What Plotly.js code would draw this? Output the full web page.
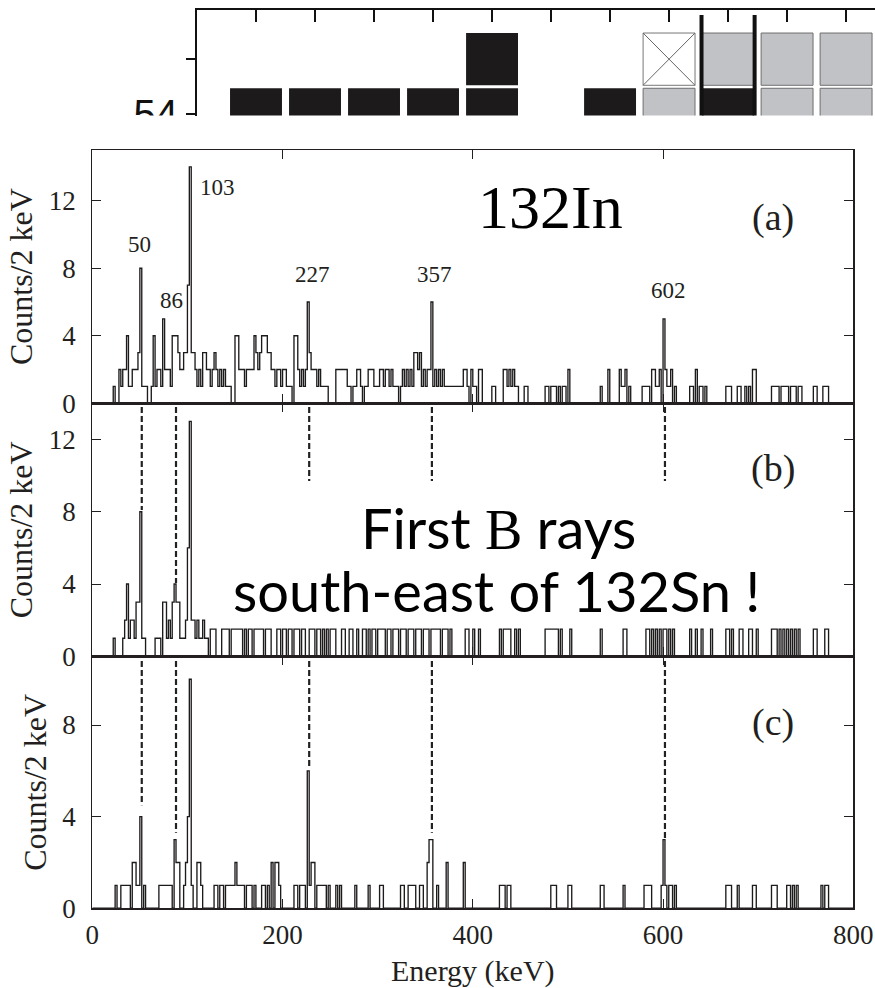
<!DOCTYPE html>
<html><head><meta charset="utf-8">
<script src="https://cdn.plot.ly/plotly-3.0.1.min.js"></script>
<style>html,body{margin:0;padding:0;background:#fff}#chart{width:875px;height:988px}</style>
</head><body><div id="chart"></div>
<script>
// ---------------- DATA ----------------
// [lower bin edge (keV), counts] for the non-empty 2 keV bins of each panel
const spectrumA = [[22,1],[28,2],[30,1],[32,2],[34,2],[36,4],[38,1],[40,1],[42,2],[44,2],[46,2],[48,3],[50,8],[52,1],[54,1],[56,1],[62,1],[64,4],[66,1],[68,2],[70,2],[72,1],[74,5],[76,2],[78,2],[80,2],[82,1],[84,4],[86,4],[88,4],[90,3],[92,2],[94,2],[96,3],[98,3],[100,7],[102,14],[104,3],[106,3],[108,2],[110,1],[112,2],[114,1],[116,3],[118,3],[120,2],[122,2],[124,1],[126,2],[128,3],[130,2],[132,1],[134,2],[136,1],[138,2],[140,1],[142,1],[144,1],[150,4],[152,4],[154,2],[156,2],[158,2],[160,1],[162,2],[164,2],[166,2],[168,2],[170,4],[172,3],[174,2],[176,3],[178,4],[180,4],[182,4],[184,3],[186,3],[188,2],[190,2],[192,1],[194,2],[196,2],[198,1],[200,2],[202,2],[204,1],[206,1],[208,1],[212,4],[214,4],[216,2],[218,1],[220,2],[222,1],[224,2],[226,6],[228,3],[230,2],[232,2],[234,2],[236,1],[238,2],[240,1],[242,1],[244,1],[246,1],[256,2],[258,2],[260,2],[262,2],[264,2],[266,2],[268,1],[270,1],[274,1],[276,1],[278,2],[280,2],[282,1],[286,1],[288,1],[290,2],[292,2],[294,2],[296,1],[298,1],[300,1],
[302,2],[304,2],[306,1],[308,2],[310,2],[312,1],[314,2],[316,1],[318,1],[320,1],[324,1],[326,2],[328,1],[330,2],[332,1],[334,2],[336,1],[338,3],[340,3],[342,2],[344,3],[346,1],[348,2],[350,1],[352,2],[354,2],[356,6],[358,1],[360,2],[362,1],[364,2],[366,1],[368,2],[370,1],[372,1],[374,1],[376,1],[378,1],[380,1],[382,1],[384,1],[386,1],[388,1],[390,2],[392,2],[394,1],[398,2],[400,1],[402,1],[406,2],[408,2],[420,1],[422,1],[432,2],[434,2],[436,1],[438,2],[440,1],[442,2],[444,1],[446,1],[454,1],[456,1],[476,1],[478,1],[482,1],[484,1],[486,1],[490,1],[494,1],[496,1],[500,2],[534,1],[542,2],[554,2],[556,1],[558,1],[560,2],[564,1],[578,1],[580,1],[582,1],[584,1],[588,2],[590,2],[592,1],[594,1],[596,2],[600,5],[602,2],[604,1],[606,1],[608,2],[612,1],[628,1],[630,1],[634,2],[638,1],[640,1],[644,1],[666,1],[668,1],[670,1],[678,1],[680,1],[686,1],[690,1],[694,2],[696,2],[714,1],[716,1],[718,1],[720,1],[724,1],[726,1],[728,1],[730,1],[734,1],[736,1],[738,1],[742,1],[744,1],[758,1],[760,1],[768,1],[770,1],[772,1]];

const spectrumB = [[22,1],[32,1],[34,2],[36,4],[38,1],[40,2],[42,2],[44,1],[46,3],[48,3],[50,8],[52,1],[54,1],[66,1],[68,1],[70,1],[74,3],[76,3],[78,1],[80,2],[82,1],[84,3],[86,4],[88,3],[90,3],[92,1],[94,1],[96,1],[98,2],[100,6],[102,13],[104,2],[106,2],[108,1],[110,2],[112,1],[114,1],[116,2],[118,1],[120,1],
[124,1.5],[126,1.5],[128,1.5],[136,1.5],[138,1.5],[140,1.5],[142,1.5],[146,1.5],[148,1.5],[150,1.5],[152,1.5],[154,1.5],[156,1.5],[160,1.5],[164,1.5],[166,1.5],[170,1.5],[172,1.5],[174,1.5],[176,1.5],[178,1.5],[182,1.5],[184,1.5],[186,1.5],[194,1.5],[196,1.5],[200,1.5],[202,1.5],[206,1.5],[208,1.5],[212,1.5],[214,1.5],[216,1.5],[220,1.5],[222,1.5],[228,1.5],[230,1.5],[232,1.5],[236,1.5],[238,1.5],[242,1.5],[246,1.5],[250,1.5],[252,1.5],[254,1.5],[262,1.5],[264,1.5],[270,1.5],[272,1.5],[278,1.5],[284,1.5],[286,1.5],[290,1.5],[294,1.5],[296,1.5],[300,1.5],
[302,1.5],[304,1.5],[306,1.5],[310,1.5],[312,1.5],[316,1.5],[318,1.5],[320,1.5],[324,1.5],[326,1.5],[328,1.5],[332,1.5],[334,1.5],[336,1.5],[340,1.5],[342,1.5],[344,1.5],[348,1.5],[350,1.5],[352,1.5],[356,1.5],[358,1.5],[360,1.5],[362,1.5],[364,1.5],[368,1.5],[370,1.5],[372,1.5],[376,1.5],[392,1.5],[394,1.5],[400,1.5],[406,1.5],[428,1.5],[432,1.5],[434,1.5],[436,1.5],[438,1.5],[444,1.5],[448,1.5],[476,1.5],[478,1.5],[480,1.5],[482,1.5],[484,1.5],[486,1.5],[488,1.5],[492,1.5],[502,1.5],[534,1.5],[558,1.5],[560,1.5],[582,1.5],[584,1.5],[588,1.5],[592,1.5],[596,1.5],[600,1.5],[602,1.5],[606,1.5],[610,1.5],[628,1.5],[634,1.5],[640,1.5],[650,1.5],[666,1.5],[668,1.5],[672,1.5],[680,1.5],[682,1.5],[690,1.5],[692,1.5],[698,1.5],[714,1.5],[716,1.5],[718,1.5],[722,1.5],[726,1.5],[730,1.5],[734,1.5],[738,1.5],[742,1.5],[758,1.5],[760,1.5],[770,1.5],[772,1.5]];

const spectrumC = [[24,1],[30,1],[32,1],[34,1],[36,1],[38,1],[42,2],[44,2],[46,1],[48,1],[50,4],[54,1],[70,1],[72,1],[74,1],[76,1],[78,1],[80,1],[82,1],[86,3],[88,2],[90,2],[96,1],[98,2],[100,4],[102,10],[104,1],[110,2],[112,2],[114,1],[128,1],[130,1],[134,1],[136,1],[140,1],[142,1],[144,1],[146,1],[148,1],[150,2],[152,1],[154,1],[156,1],[158,1],[162,1],[164,1],[166,1],[170,1],[178,1],[180,1],[184,1],[188,2],[192,2],[194,2],[196,1],[212,1],[214,1],[218,1],[220,1],[222,1],[226,6],[228,1],[230,2],[232,2],[236,1],[238,1],[240,1],[242,1],[244,1],[248,1],[256,1],[260,1],[276,1],[290,1],[302,1],[304,1],[324,1],[326,1],[332,1],[334,1],[336,1],[338,1],[344,1],[346,1],[352,2],[354,3],[356,3],[362,1],[372,2],[390,2],[428,1],[430,1],[432,1],[436,1],[438,1],[482,1],[484,1],[486,1],[500,1],[502,1],[534,1],[536,1],[558,1],[580,1],[582,1],[584,1],[586,1],[598,1],[600,3],[602,1],[606,1],[608,1],[612,1],[666,1],[668,1],[670,1],[678,1],[694,1],[696,1],[714,1],[716,1],[718,1],[730,1],[732,1],[736,1],[740,1],[766,1],[770,1],[772,1]];

const xTickVals = [0, 200, 400, 600, 800];
const yTickValsAB = [0, 4, 8, 12];
const yTickValsC = [0, 4, 8];

const peakLabels = ['50', '86', '103', '227', '357', '602'];
const peakLabelE = [50, 83, 132, 232, 360, 605.5];
const peakLabelC = [9.4, 6.1, 12.8, 7.6, 7.6, 6.7];

const dashE = [52, 88, 228, 357, 602];
const dashTopB = [13.8, 13.8, 13.8, 13.8, 13.8];
const dashBotB = [8.1, 4.05, 9.7, 9.7, 9.7];
const dashTopC = [10.8, 10.8, 10.8, 10.8, 10.8];
const dashBotC = [4.5, 3.3, 6.2, 3.3, 3.05];

// nuclide-chart strip: neutron column, proton row, kind (b=black, g=grey, x=crossed)
const cellN = [74, 75, 76, 77, 78, 80, 81, 82, 83, 84, 78, 81, 82, 83, 84];
const cellZ = [54, 54, 54, 54, 54, 54, 54, 54, 54, 54, 55, 55, 55, 55, 55];
const cellKind = ['b','b','b','b','b','b','g','b','g','g','b','x','g','g','g'];
const stripTicksN = [74, 75, 76, 77, 78, 79, 80, 81, 82, 83, 84];
const magicLinesN = [81.55, 82.45];

// ---------------- BUILD ----------------
const W = 875, H = 988;
const fx = p => p / W, fy = p => 1 - p / H;
const ink = '#231f20';
const serif = 'Liberation Serif';

function stepXY(pairs) {
  const n = 400, arr = new Array(n).fill(0);
  pairs.forEach(([e, c]) => { arr[Math.round(e / 2)] = c; });
  const x = [], y = [];
  for (let i = 0; i < n; i++) { x.push(i * 2); y.push(arr[i]); }
  x.push(800); y.push(arr[n - 1]);
  return { x, y };
}
function dashXY(es, tops, bots) {
  const x = [], y = [];
  es.forEach((e, i) => { x.push(e, e, null); y.push(tops[i], bots[i], null); });
  return { x, y };
}

const traces = [];
[[spectrumA, 'x', 'y'], [spectrumB, 'x2', 'y2'], [spectrumC, 'x3', 'y3']].forEach(([p, xa, ya]) => {
  const s = stepXY(p);
  traces.push({ type: 'scatter', mode: 'lines', x: s.x, y: s.y, xaxis: xa, yaxis: ya,
    line: { shape: 'hv', color: '#1d1a1a', width: 1.35, simplify: false }, hoverinfo: 'skip', showlegend: false });
});
const dB = dashXY(dashE, dashTopB, dashBotB), dC = dashXY(dashE, dashTopC, dashBotC);
const dashStyle = { color: '#222', width: 2.2, dash: '6px,3px' };
traces.push({ type: 'scatter', mode: 'lines', x: dB.x, y: dB.y, xaxis: 'x2', yaxis: 'y2',
  line: dashStyle, hoverinfo: 'skip', showlegend: false, connectgaps: false });
traces.push({ type: 'scatter', mode: 'lines', x: dC.x, y: dC.y, xaxis: 'x3', yaxis: 'y3',
  line: dashStyle, hoverinfo: 'skip', showlegend: false, connectgaps: false });
traces.push({ type: 'scatter', mode: 'markers', x: [cellN[0]], y: [cellZ[0]], xaxis: 'x4', yaxis: 'y4',
  marker: { opacity: 0 }, hoverinfo: 'skip', showlegend: false });

const xdom = [fx(92.3), fx(853.3)];
const tickFont = { family: serif, size: 27, color: ink };
function xax(anchor, labels) {
  const o = { domain: xdom, anchor, range: [0, 800], tickvals: xTickVals, ticks: 'inside', ticklen: 9,
    tickwidth: 1, tickcolor: ink, showline: true, linecolor: ink, linewidth: 1.2, mirror: 'ticks',
    showgrid: false, zeroline: false, showticklabels: labels, tickfont: tickFont, ticklabelstandoff: 2 };
  if (labels) o.title = { text: 'Energy (keV)', font: { family: serif, size: 30, color: ink }, standoff: 12 };
  return o;
}
function yax(anchor, dom, top, vals) {
  return { domain: dom, anchor, range: [0, top], tickvals: vals, ticks: 'inside', ticklen: 9,
    tickwidth: 1, tickcolor: ink, showline: true, linecolor: ink, linewidth: 1.2, mirror: 'ticks',
    showgrid: false, zeroline: false, tickfont: tickFont, ticklabelstandoff: 10,
    title: { text: 'Counts/2 keV', font: { family: serif, size: 32, color: ink }, standoff: 6 } };
}

const shapes = [];
cellN.forEach((n, i) => {
  const z = cellZ[i], k = cellKind[i];
  const r = { type: 'rect', xref: 'x4', yref: 'y4', x0: n - 0.44, x1: n + 0.44, y0: z - 0.473, y1: z + 0.473, layer: 'above' };
  if (k === 'b') { r.fillcolor = '#1c1a1a'; r.line = { width: 0 }; }
  else if (k === 'g') { r.fillcolor = '#c1c2c6'; r.line = { color: '#6e6e70', width: 1 }; }
  else { r.fillcolor = '#ffffff'; r.line = { color: '#777777', width: 1 }; }
  shapes.push(r);
  if (k === 'x') {
    shapes.push({ type: 'line', xref: 'x4', yref: 'y4', x0: n - 0.44, x1: n + 0.44, y0: z - 0.473, y1: z + 0.473, line: { color: '#666', width: 1 }, layer: 'above' });
    shapes.push({ type: 'line', xref: 'x4', yref: 'y4', x0: n - 0.44, x1: n + 0.44, y0: z + 0.473, y1: z - 0.473, line: { color: '#666', width: 1 }, layer: 'above' });
  }
});
magicLinesN.forEach(n => shapes.push({ type: 'line', xref: 'x4', yref: 'y4', x0: n, x1: n, y0: 53.9, y1: 55.8, line: { color: '#111', width: 4 }, layer: 'above' }));
shapes.push({ type: 'rect', xref: 'paper', yref: 'paper', x0: fx(100), x1: fx(193), y0: fy(140), y1: fy(115.5), fillcolor: '#fff', line: { width: 0 }, layer: 'above' });

const annotations = [];
peakLabels.forEach((t, i) => annotations.push({ text: t, x: peakLabelE[i], y: peakLabelC[i], xref: 'x', yref: 'y',
  showarrow: false, font: { family: serif, size: 23, color: ink } }));
annotations.push({ text: '132In', x: 482, y: 11.6, xref: 'x', yref: 'y', showarrow: false, font: { family: 'Liberation Serif', size: 62, color: '#000' } });
annotations.push({ text: '(a)', x: 716, y: 11.0, xref: 'x', yref: 'y', showarrow: false, font: { family: serif, size: 38, color: ink } });
annotations.push({ text: '(b)', x: 716, y: 10.4, xref: 'x2', yref: 'y2', showarrow: false, font: { family: serif, size: 38, color: ink } });
annotations.push({ text: '(c)', x: 716, y: 8.1, xref: 'x3', yref: 'y3', showarrow: false, font: { family: serif, size: 38, color: ink } });
annotations.push({ text: 'First <span style="font-family:Liberation Serif">B</span> rays', x: fx(498), y: fy(527), xref: 'paper', yref: 'paper',
  showarrow: false, font: { family: 'Lato, sans-serif', size: 56, color: '#000' } });
annotations.push({ text: 'south-east of 132Sn !', x: fx(497), y: fy(590), xref: 'paper', yref: 'paper',
  showarrow: false, font: { family: 'Lato, sans-serif', size: 56, color: '#000' } });

const layout = {
  width: W, height: H, margin: { l: 0, r: 0, t: 0, b: 0 }, paper_bgcolor: '#fff', plot_bgcolor: 'rgba(0,0,0,0)',
  showlegend: false,
  xaxis: xax('y', false), xaxis2: xax('y2', false), xaxis3: xax('y3', true),
  yaxis: yax('x', [fy(403.3), fy(150)], 15, yTickValsAB),
  yaxis2: yax('x2', [fy(656.3), fy(403.3)], 14, yTickValsAB),
  yaxis3: yax('x3', [fy(908.3), fy(656.3)], 11, yTickValsC),
  xaxis4: { domain: [fx(197), 1], anchor: 'y4', side: 'top', range: [73.0, 84.49], tickvals: stripTicksN,
    ticks: 'inside', ticklen: 12, tickwidth: 2, tickcolor: '#111', showline: true, linecolor: '#111', linewidth: 2,
    showticklabels: false, showgrid: false, zeroline: false },
  yaxis4: { domain: [fy(115.5), fy(10)], anchor: 'x4', range: [53.98, 55.89], tickvals: [54, 55], ticktext: ['54', ''],
    ticks: 'outside', ticklen: 9, tickwidth: 2, tickcolor: '#111', showline: true, linecolor: '#111', linewidth: 2,
    tickfont: { family: 'Liberation Sans, Arial, sans-serif', size: 40, color: '#111' }, showgrid: false, zeroline: false },
  shapes, annotations
};
Plotly.newPlot('chart', traces, layout, { staticPlot: true, displayModeBar: false });
</script></body></html>
